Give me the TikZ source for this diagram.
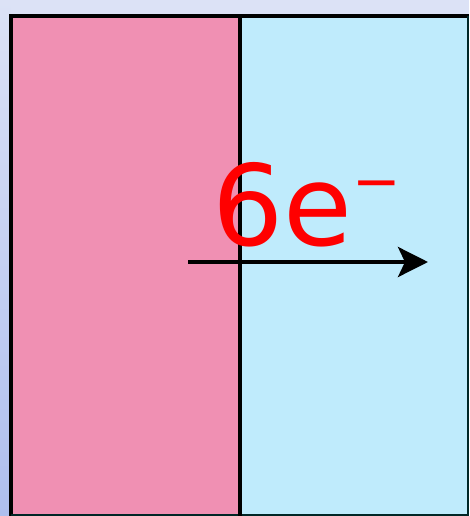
\documentclass[tikz,border=0pt]{standalone}
\usepackage{fontspec}
\newfontfamily\handfont{DejaVu Sans}
\usetikzlibrary{arrows.meta}
\definecolor{pinkside}{HTML}{F090B3}
\definecolor{blueside}{HTML}{BFEBFC}
\definecolor{backdrop}{HTML}{DCE2F6}
\definecolor{backdropdark}{HTML}{AEBEEE}
\begin{document}
\begin{tikzpicture}[x=1pt,y=-1pt]
\useasboundingbox (0,0) rectangle (469,516);
\fill[backdrop] (0,0) rectangle (469,516);
\shade[top color=backdrop,bottom color=backdropdark] (0,0) rectangle (10,516);
\fill[pinkside] (11,17) rectangle (240,516);
\fill[blueside] (240,17) rectangle (468,516);
\draw[line width=4pt] (11,516) -- (11,16) -- (469,16);
\draw[line width=1.5pt,black!70!teal] (468,16) -- (468,515) -- (11,515);
\draw[line width=4pt] (240,16) -- (240,516);
\coordinate (tail) at (188,262);
\coordinate (head) at (428,262);
\draw[line width=4pt,-{Stealth[length=30pt,width=30pt,inset=7pt]}] (tail) -- (head);
\node[red,font=\handfont\fontsize{112}{112}\selectfont,anchor=base west,inner sep=0pt] (charge) at (212,245) {6e\raisebox{44pt}{\fontsize{58}{58}\selectfont −}};
\end{tikzpicture}
\end{document}
